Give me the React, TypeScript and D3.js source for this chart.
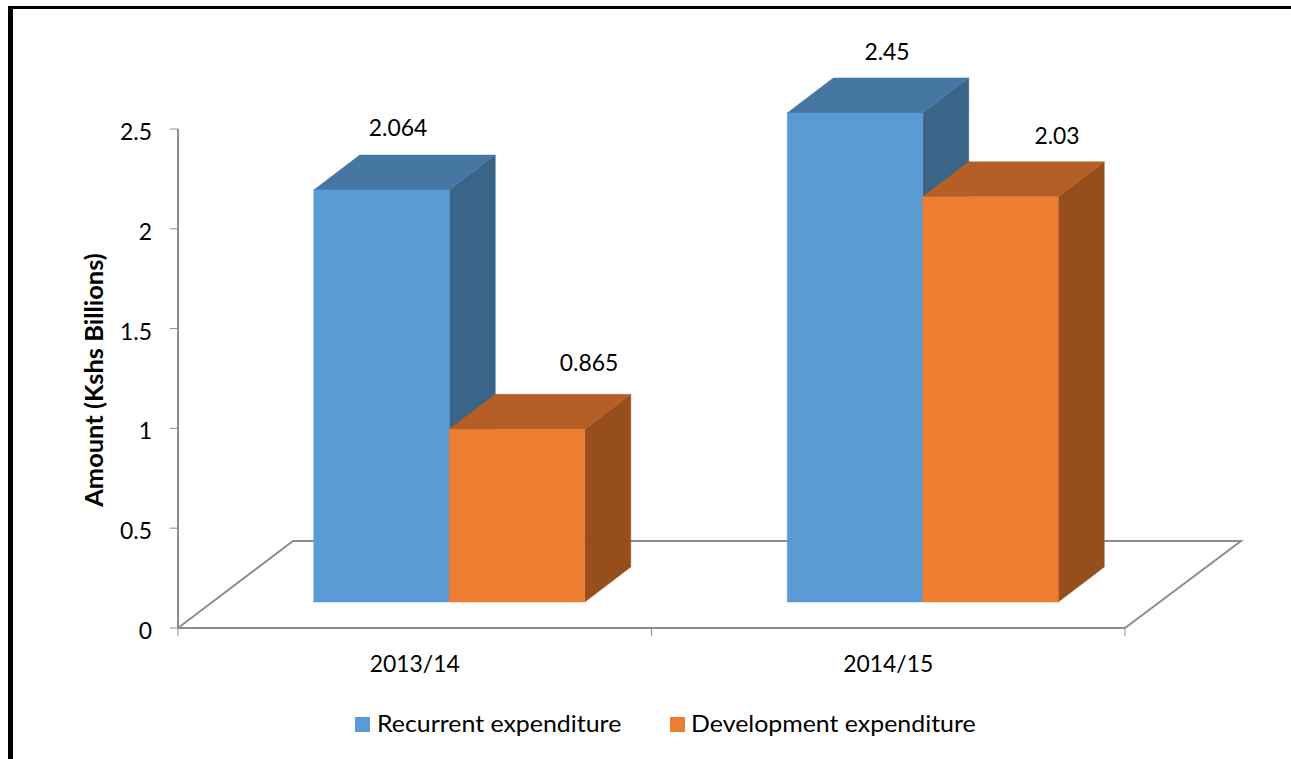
import React from "react";
import * as d3 from "d3";

const categories = ["2013/14", "2014/15"];
const seriesNames = ["Recurrent expenditure", "Development expenditure"];
const recurrent = [2.064, 2.45];
const development = [0.865, 2.03];
const yTicks = [0, 0.5, 1, 1.5, 2, 2.5];
const palette = [
  { front: "#5B9BD5", top: "#4676A2", side: "#3A6488" },
  { front: "#ED7D31", top: "#B45F25", side: "#964F1C" },
];

const FONT = "Lato, sans-serif";
const W = 1291;
const H = 759;
const depthX = 46;
const depthY = 35;
const barWidth = 135.5;
const groupShift = 34.5;
const wordStretch = 1.06;
const digitStretch = 0.975;
// label placement relative to the bar front's centre and top: [series][category]
const labelDx = [
  [16.5, 32],
  [72, 66.5],
];
const labelDy = [
  [54, 53],
  [58, 53],
];

function Txt({
  x,
  y,
  anchor = "start",
  size = 23.5,
  stretch = digitStretch,
  children,
}: {
  x: number;
  y: number;
  anchor?: string;
  size?: number;
  stretch?: number;
  children: React.ReactNode;
}) {
  return (
    <text transform={`translate(${x},${y}) scale(${stretch},1)`} textAnchor={anchor} fontSize={size} fill="#000">
      {children}
    </text>
  );
}

export default function App() {
  const axisY = d3.scaleLinear().domain([0, 2.5]).range([628, 129]);
  const barY = d3.scaleLinear().domain([0, 2.5]).range([602, 103]);
  const x0 = d3.scaleBand<string>().domain(categories).range([178, 1125]);
  const x1 = d3
    .scaleBand<number>()
    .domain([0, 1])
    .range([0, barWidth * 2]);

  const values = [recurrent, development];
  const barLeft = (cat: number, s: number) =>
    x0(categories[cat])! + (x0.bandwidth() - barWidth * 2) / 2 + groupShift + x1(s)!;

  const bar = (cat: number, s: number) => {
    const left = barLeft(cat, s);
    const right = left + barWidth;
    const top = barY(values[s][cat]);
    const base = barY(0);
    const c = palette[s];
    const face = (pts: [number, number][], fill: string, key: string) => (
      <path key={key} d={d3.line()(pts) + "Z"} fill={fill} stroke={fill} strokeWidth={0.5} />
    );
    return (
      <g key={`${cat}-${s}`}>
        {face(
          [
            [right, base],
            [right + depthX, base - depthY],
            [right + depthX, top - depthY],
            [right, top],
          ],
          c.side,
          "side"
        )}
        {face(
          [
            [left, top],
            [left + depthX, top - depthY],
            [right + depthX, top - depthY],
            [right, top],
          ],
          c.top,
          "top"
        )}
        {face(
          [
            [left, top],
            [right, top],
            [right, base],
            [left, base],
          ],
          c.front,
          "front"
        )}
      </g>
    );
  };

  const axisColor = "#8C8C8C";
  const floor0 = axisY(0);
  const floorBack = 541;

  return (
    <svg
      width={W}
      height={H}
      viewBox={`0 0 ${W} ${H}`}
      style={{ position: "fixed", left: 0, top: 0, background: "#fff", fontFamily: FONT }}
    >
      <rect x={8} y={6} width={W - 8} height={3} fill="#000" />
      <rect x={8} y={6} width={5} height={H - 6} fill="#000" />

      {/* floor */}
      <path
        d={`M178 ${floor0} L293 ${floorBack} H1241 L1125 ${floor0}`}
        fill="none"
        stroke={axisColor}
        strokeWidth={2}
      />

      {/* axes */}
      <line x1={178} x2={178} y1={axisY(2.5)} y2={floor0} stroke={axisColor} strokeWidth={2} />
      <line x1={178} x2={1125} y1={floor0} y2={floor0} stroke={axisColor} strokeWidth={2} />
      {yTicks.map((t) => (
        <g key={t}>
          <line x1={170} x2={178} y1={axisY(t)} y2={axisY(t)} stroke={axisColor} strokeWidth={1} />
          <Txt x={152} y={axisY(t) + 11} anchor="end">
            {t}
          </Txt>
        </g>
      ))}
      {[0, 1, 2].map((i) => {
        const x = 178 + i * x0.step();
        return <line key={i} x1={x} x2={x} y1={floor0} y2={floor0 + 8} stroke={axisColor} strokeWidth={1} />;
      })}

      {/* bars, back to front */}
      {bar(0, 0)}
      {bar(0, 1)}
      {bar(1, 0)}
      {bar(1, 1)}

      {/* data labels */}
      {[0, 1].map((s) =>
        [0, 1].map((c) => (
          <Txt
            key={`${s}${c}`}
            x={barLeft(c, s) + barWidth / 2 + labelDx[s][c]}
            y={barY(values[s][c]) - labelDy[s][c]}
            anchor="middle"
          >
            {values[s][c]}
          </Txt>
        ))
      )}

      {categories.map((c) => (
        <Txt key={c} x={x0(c)! + x0.bandwidth() / 2} y={672} anchor="middle">
          {c}
        </Txt>
      ))}

      <text
        transform={`translate(103,380) rotate(-90) scale(${wordStretch},1)`}
        textAnchor="middle"
        fontSize={24}
        fontWeight={700}
        fill="#000"
      >
        Amount (Kshs Billions)
      </text>

      {/* legend */}
      <rect x={355} y={717} width={15} height={15} fill={palette[0].front} />
      <Txt x={377} y={732} stretch={wordStretch}>
        {seriesNames[0]}
      </Txt>
      <rect x={670} y={717} width={15} height={15} fill={palette[1].front} />
      <Txt x={691} y={732} stretch={wordStretch}>
        {seriesNames[1]}
      </Txt>
    </svg>
  );
}
